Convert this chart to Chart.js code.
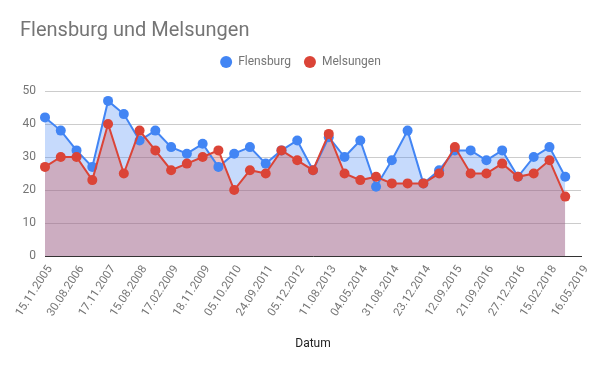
<!DOCTYPE html>
<html>
<head>
<meta charset="utf-8">
<script src="https://cdn.jsdelivr.net/npm/chart.js@4.4.0/dist/chart.umd.min.js"></script>
<style>
  html, body { margin: 0; padding: 0; background: #fff; }
  #wrap { width: 600px; height: 371px; }
</style>
</head>
<body>
<div id="wrap"><canvas id="chart"></canvas></div>
<script>
// Only every second date is readable in the picture; the others are left blank
const dates = [
    '15.11.2005', '', '30.08.2006', '', '17.11.2007', '', '15.08.2008', '',
    '17.02.2009', '', '18.11.2009', '', '05.10.2010', '', '24.09.2011', '',
    '05.12.2012', '', '11.08.2013', '', '04.05.2014', '', '31.08.2014', '',
    '23.12.2014', '', '12.09.2015', '', '21.09.2016', '', '27.12.2016', '',
    '15.02.2018', '', '16.05.2019'
];

const flensburg = [42, 38, 32, 27, 47, 43, 35, 38, 33, 31, 34, 27, 31, 33, 28, 32, 35,
    26, 36, 30, 35, 21, 29, 38, 22, 26, 32, 32, 29, 32, 24, 30, 33, 24, null];
const melsungen = [27, 30, 30, 23, 40, 25, 38, 32, 26, 28, 30, 32, 20, 26, 25, 32, 29,
    26, 37, 25, 23, 24, 22, 22, 22, 25, 33, 25, 25, 28, 24, 25, 29, 18, null];

const yTicks = [0, 10, 20, 30, 40, 50];

const grey = '#757575';
const blue = '#4285F4';
const red = '#DB4437';

// give the legend a bit more room underneath
const legendSpace = {
    id: 'legendSpace',
    beforeInit(chart) {
        const fit = chart.legend.fit;
        chart.legend.fit = function () {
            fit.bind(chart.legend)();
            this.height += 13;
        };
    }
};

const ctx = document.getElementById('chart').getContext('2d');

new Chart(ctx, {
    type: 'line',
    data: {
        labels: dates,
        datasets: [{
            label: 'Melsungen',
            data: melsungen,
            borderColor: red,
            backgroundColor: 'rgba(219, 68, 55, 0.3)',
            pointBackgroundColor: red,
            pointBorderColor: red,
            fill: 'origin'
        }, {
            label: 'Flensburg',
            data: flensburg,
            borderColor: blue,
            backgroundColor: 'rgba(66, 133, 244, 0.3)',
            pointBackgroundColor: blue,
            pointBorderColor: blue,
            fill: 'origin'
        }]
    },
    options: {
        responsive: true,
        maintainAspectRatio: false,
        animation: false,
        layout: {
            padding: { left: 20, right: 19, top: 0, bottom: 16 }
        },
        elements: {
            line: { borderWidth: 2, tension: 0 },
            point: { radius: 5, borderWidth: 0, hoverRadius: 5 }
        },
        plugins: {
            filler: { drawTime: 'beforeDatasetsDraw' },
            title: {
                display: true,
                text: 'Flensburg und Melsungen',
                align: 'start',
                color: grey,
                font: { family: 'Roboto', size: 20, weight: 'normal' },
                padding: { top: 19, bottom: 0 }
            },
            legend: {
                reverse: true,
                labels: {
                    usePointStyle: true,
                    pointStyle: 'circle',
                    boxWidth: 12,
                    boxHeight: 8.5,
                    padding: 13,
                    color: grey,
                    font: { family: 'Roboto', size: 12 }
                }
            },
            tooltip: { enabled: false }
        },
        scales: {
            x: {
                grid: { display: true, color: 'rgba(0,0,0,0)', drawTicks: false },
                border: { display: true, color: '#333333', width: 1 },
                ticks: {
                    autoSkip: false,
                    minRotation: 57,
                    maxRotation: 57,
                    padding: 7,
                    labelOffset: 5,
                    color: grey,
                    font: { family: 'Roboto', size: 11.5 },
                    callback: function (value, index) {
                        return index % 2 === 0 ? this.getLabelForValue(value) : '';
                    }
                },
                title: {
                    display: true,
                    text: 'Datum',
                    color: '#222222',
                    font: { family: 'Roboto', size: 12 }
                },
                afterFit: (scale) => { scale.height = 99; }
            },
            y: {
                min: yTicks[0],
                max: yTicks[yTicks.length - 1],
                afterBuildTicks: (scale) => {
                    scale.ticks = yTicks.map(v => ({ value: v }));
                },
                grid: { color: '#cccccc', drawTicks: false },
                border: { display: false },
                ticks: {
                    padding: 9,
                    color: grey,
                    font: { family: 'Roboto', size: 12 }
                },
                afterFit: (scale) => { scale.width = 25; }
            }
        }
    },
    plugins: [legendSpace]
});
</script>
</body>
</html>
